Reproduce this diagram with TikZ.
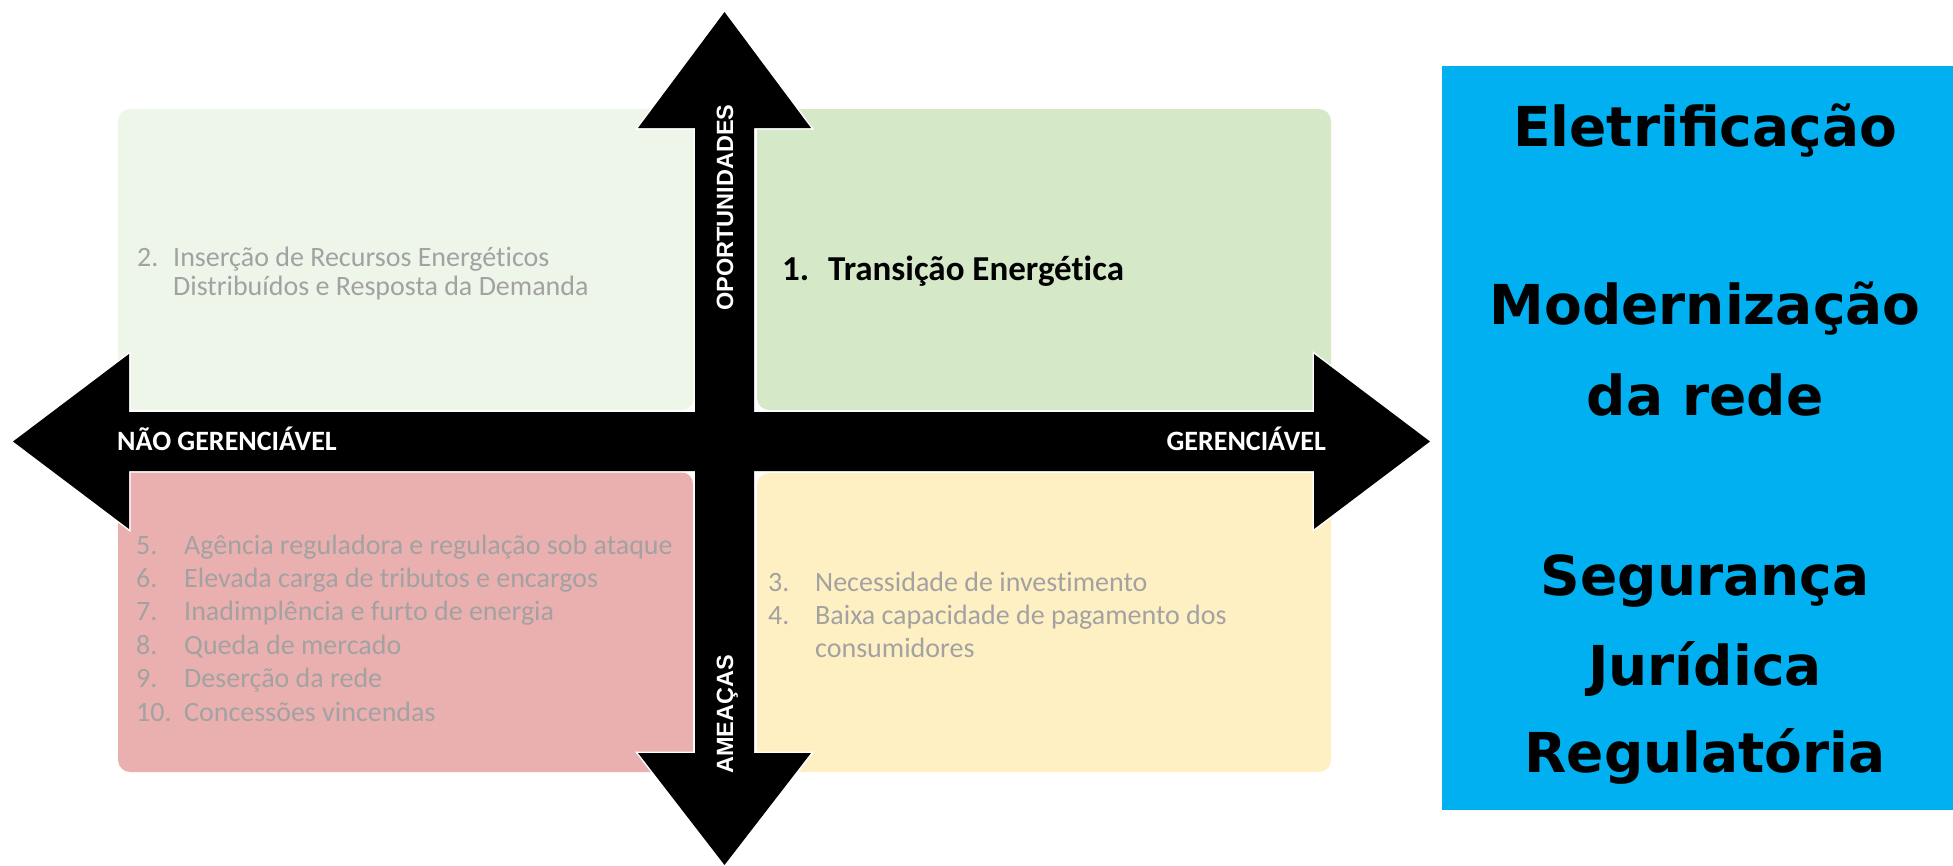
\documentclass[tikz,border=0pt]{standalone}
\usepackage{fontspec}
\setmainfont{Carlito}[Ligatures={NoCommon}]
\newfontfamily\axisfont{Liberation Sans}
\newfontfamily\panelfont{DejaVu Sans}
\usepackage{xcolor}
\usepackage{tikz}
\usetikzlibrary{calc}

\definecolor{quadTL}{RGB}{238,245,233}
\definecolor{quadTR}{RGB}{213,232,200}
\definecolor{quadBL}{RGB}{234,176,175}
\definecolor{quadBR}{RGB}{255,240,195}
\definecolor{panelblue}{RGB}{0,176,240}
\definecolor{itemgrey}{RGB}{162,162,162}

\begin{document}
\begin{tikzpicture}[x=1pt,y=-1pt,
    quad/.style={rounded corners=12pt},
    item/.style={anchor=base west, inner sep=0pt, text=itemgrey, font=\fontsize{28}{33}\selectfont},
    axislabel/.style={inner sep=0pt, text=white, font=\bfseries\fontsize{28}{33}\selectfont},
    vlabel/.style={inner sep=0pt, text=white, rotate=90, anchor=base, font=\axisfont\bfseries\fontsize{23.5}{28}\selectfont},
    paneltext/.style={anchor=base, inner sep=0pt, font=\panelfont\bfseries\fontsize{55}{89}\selectfont}]
        \useasboundingbox (0,0) rectangle (1953,865);

        % quadrants
        \fill[quadTL, quad] (118,109) rectangle (694,410);
        \fill[quadTR, quad] (757,109) rectangle (1331,410);
        \fill[quadBL, quad] (118,472) rectangle (693,772);
        \fill[quadBR, quad] (757,473) rectangle (1331,772);

        % arrows
        \def\hx{724.5} % center x of vertical arrow
        \def\hy{441.5} % center y of horizontal arrow
        \coordinate (L) at (13,\hy);
        \coordinate (R) at (1430,\hy);
        \coordinate (T) at (\hx,12);
        \coordinate (B) at (\hx,865);

        \draw[white, line width=3pt, line join=miter]
             (L) -- (129,354) -- (129,412) -- (1314,412) -- (1314,354) -- (R)
             -- (1314,529) -- (1314,471) -- (129,471) -- (129,529) -- cycle
             (T) -- (811,128) -- (754,128) -- (754,753) -- (811,753) -- (B)
             -- (638,753) -- (695,753) -- (695,128) -- (638,128) -- cycle;
        \fill[black] (L) -- (129,354) -- (129,412) -- (1314,412) -- (1314,354) -- (R)
             -- (1314,529) -- (1314,471) -- (129,471) -- (129,529) -- cycle;
        \fill[black] (T) -- (811,128) -- (754,128) -- (754,753) -- (811,753) -- (B)
             -- (638,753) -- (695,753) -- (695,128) -- (638,128) -- cycle;

        % axis labels
        \node[axislabel, anchor=base west] (ng) at (117,450) {NÃO GERENCIÁVEL};
        \node[axislabel, anchor=base east] (g) at (1326,450) {GERENCIÁVEL};
        \node[vlabel] (op) at (733,207.5) {OPORTUNIDADES};
        \node[vlabel] (am) at (733,714.5) {AMEAÇAS};

        % top right
        \node[anchor=base west, inner sep=0pt, font=\bfseries\fontsize{35}{42}\selectfont] (n1) at (782,280) {1.};
        \node[anchor=base west, inner sep=0pt, font=\bfseries\fontsize{35}{42}\selectfont] (t1) at (828,280) {Transição Energética};

        % top left
        \node[item] (n2) at (137,266) {2.};
        \node[item] (t2a) at (173,266) {Inserção de Recursos Energéticos};
        \node[item] (t2b) at (173,295) {Distribuídos e Resposta da Demanda};

        % bottom right
        \node[item] (n3) at (768,591) {3.};
        \node[item] (t3) at (815,591) {Necessidade de investimento};
        \node[item] (n4) at (768,624) {4.};
        \node[item] (t4a) at (815,624) {Baixa capacidade de pagamento dos};
        \node[item] (t4b) at (815,657) {consumidores};

        % bottom left
        \foreach \txt [count=\i from 5] in {Agência reguladora e regulação sob ataque,
            Elevada carga de tributos e encargos, Inadimplência e furto de energia,
            Queda de mercado, Deserção da rede, Concessões vincendas}
        {
            \node[item] (n\i) at (136,{554+33.4*(\i-5)}) {\i.};
            \node[item] (t\i) at (184,{554+33.4*(\i-5)}) {\txt};
        }

        % blue panel
        \fill[panelblue] (1442,66) rectangle (1953,810);
        \foreach \txt/\yy [count=\i] in {Eletrificação/146, Modernização/324, da rede/415,
            Segurança/595, Jurídica/685, Regulatória/772}
            \node[paneltext] (panel\i) at (1705,\yy) {\txt};

    \end{tikzpicture}
\end{document}
